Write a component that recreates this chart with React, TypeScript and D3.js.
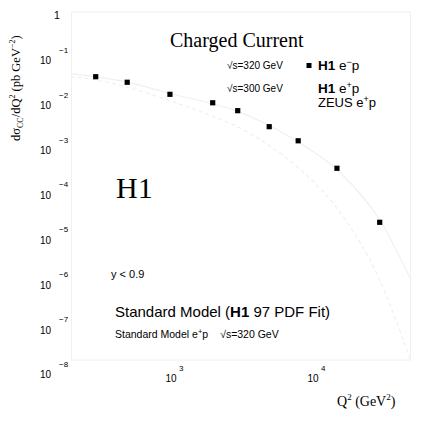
import React from "react";
import * as d3 from "d3";

const q2Bins = [300, 500, 1000, 2000, 3000, 5000, 8000, 15000, 30000];
const h1EmSigma = [3.43e-2, 2.58e-2, 1.39e-2, 9.0e-3, 6.0e-3, 2.64e-3, 1.28e-3, 3.12e-4, 1.95e-5];

const curveQ2 = [200, 300, 500, 1000, 2000, 3000, 5000, 8000, 15000, 30000, 50000];
const smEm = [4.0e-2, 3.4e-2, 2.6e-2, 1.45e-2, 8.5e-3, 5.8e-3, 2.8e-3, 1.2e-3, 2.9e-4, 2.2e-5, 1.0e-6];
const smEp = [3.5e-2, 2.9e-2, 2.0e-2, 1.0e-2, 4.5e-3, 2.6e-3, 1.0e-3, 3.2e-4, 4.0e-5, 1.0e-6, 1.5e-8];

const yExps = [0, -1, -2, -3, -4, -5, -6, -7, -8];
const xExps = [3, 4];

export default function App() {
  const x = d3.scaleLog().domain([200, 50000]).range([70.7, 411.2]);
  const y = d3.scaleLog().domain([1e-8, 1]).range([369.9, 11]);
  const line = d3
    .line<[number, number]>()
    .x((d) => x(d[0]))
    .y((d) => y(d[1]))
    .curve(d3.curveMonotoneX);
  const emPts = curveQ2.map((q, i) => [q, smEm[i]] as [number, number]);
  const epPts = curveQ2.map((q, i) => [q, smEp[i]] as [number, number]).filter((d) => y(d[1]) < 370);
  const faint = "#f0f0f0";
  const sans = "'Liberation Sans', Arial, sans-serif";
  const serif = "'Liberation Serif', 'Times New Roman', serif";
  const ms = 5.2;
  return (
    <svg
      width={426}
      height={426}
      style={{ position: "absolute", left: 0, top: 0, background: "#fff" }}
      fontFamily={sans}
    >
      <rect x={0} y={0} width={426} height={426} fill="#fff" />
      {/* frame */}
      <rect x={71.5} y={12} width={339} height={348} fill="none" stroke={faint} strokeWidth={1} />
      {/* model curves */}
      <path d={line(emPts) || ""} fill="none" stroke={faint} strokeWidth={1.2} />
      <path d={line(epPts) || ""} fill="none" stroke={faint} strokeWidth={1.2} strokeDasharray="4,3" />
      {/* y tick labels */}
      {yExps.map((e) =>
        e === 0 ? (
          <text key={e} x={57} y={y(1) + 8} fontSize={10.5} textAnchor="middle" fill="#000">
            1
          </text>
        ) : (
          <g key={e}>
            <text x={51} y={y(Math.pow(10, e)) + 8.5} fontSize={10} textAnchor="end" fill="#000">
              10
            </text>
            <text x={59} y={y(Math.pow(10, e)) - 3} fontSize={8} fill="#000">
              {"\u2212" + -e}
            </text>
          </g>
        )
      )}
      {/* x tick labels */}
      {xExps.map((e) => (
        <g key={e}>
          <text x={x(Math.pow(10, e)) + 1} y={382} fontSize={10} textAnchor="middle" fill="#000">
            10
          </text>
          <text x={x(Math.pow(10, e)) + 9} y={371} fontSize={8} fill="#000">
            {e}
          </text>
        </g>
      ))}
      {/* data markers */}
      {q2Bins.map((q, i) => (
        <rect key={q} x={x(q) - ms / 2} y={y(h1EmSigma[i]) - ms / 2} width={ms} height={ms} fill="#000" />
      ))}
      {/* title */}
      <text x={170} y={47} fontSize={20} fontFamily={serif} fill="#000">
        Charged Current
      </text>
      {/* legend */}
      <text x={227} y={68.5} fontSize={10} fill="#000">
        √s=320 GeV
      </text>
      <rect x={309 - 2.5} y={65.5 - 2.5} width={5} height={5} fill="#000" />
      <text x={318} y={70} fontSize={13.5} fill="#000">
        <tspan fontWeight="bold">H1</tspan> e<tspan dy={-5} fontSize={9}>−</tspan>
        <tspan dy={5}>p</tspan>
      </text>
      <text x={227} y={91.5} fontSize={10} fill="#000">
        √s=300 GeV
      </text>
      <text x={318} y={93} fontSize={13.5} fill="#000">
        <tspan fontWeight="bold">H1</tspan> e<tspan dy={-5} fontSize={9}>+</tspan>
        <tspan dy={5}>p</tspan>
      </text>
      <text x={318} y={107} fontSize={13} fill="#000">
        ZEUS e<tspan dy={-5} fontSize={9}>+</tspan>
        <tspan dy={5}>p</tspan>
      </text>
      {/* H1 label */}
      <text x={116} y={198} fontSize={30} fontFamily={serif} fill="#000">
        H1
      </text>
      <text x={111} y={278} fontSize={11} fill="#000">
        y &lt; 0.9
      </text>
      <text x={115} y={317} fontSize={15} fill="#000">
        Standard Model (<tspan fontWeight="bold">H1</tspan> 97 PDF Fit)
      </text>
      <text x={115} y={338} fontSize={10.5} fill="#000">
        Standard Model e<tspan dy={-4} fontSize={7.5}>+</tspan>
        <tspan dy={4}>p</tspan>
        <tspan dx={12}>√s=320 GeV</tspan>
      </text>
      {/* x axis title */}
      <text x={337} y={406} fontSize={14} fontFamily={serif} fill="#000">
        Q<tspan dy={-6} fontSize={9}>2</tspan>
        <tspan dy={6}> (GeV</tspan>
        <tspan dy={-6} fontSize={9}>2</tspan>
        <tspan dy={6}>)</tspan>
      </text>
      {/* y axis title */}
      <text
        transform="translate(20,141) rotate(-90)"
        fontSize={12.5}
        fontFamily={serif}
        fill="#000"
      >
        dσ<tspan dy={3} fontSize={8}>CC</tspan>
        <tspan dy={-3}>/dQ</tspan>
        <tspan dy={-5} fontSize={8}>2</tspan>
        <tspan dy={5}> (pb GeV</tspan>
        <tspan dy={-5} fontSize={8}>−2</tspan>
        <tspan dy={5}>)</tspan>
      </text>
    </svg>
  );
}
